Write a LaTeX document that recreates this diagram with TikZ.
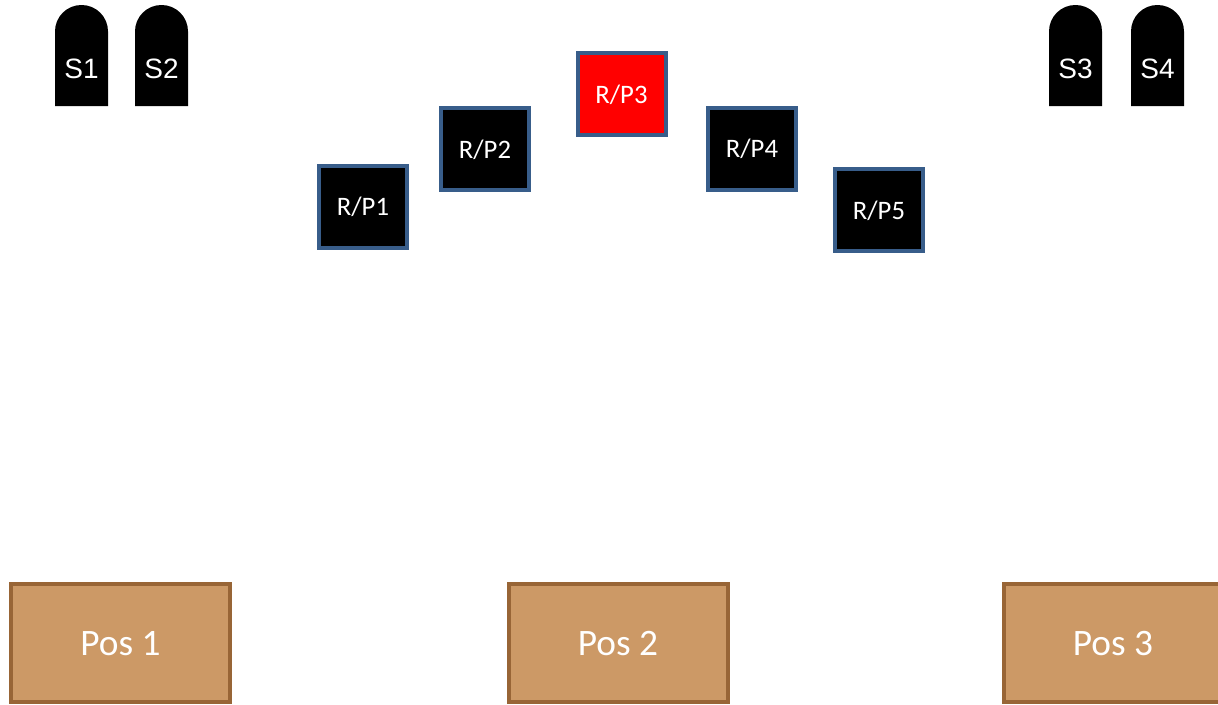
\documentclass[tikz,border=0pt]{standalone}
\usepackage{fontspec}
\setmainfont{Carlito}
\newfontfamily\arialfont{Liberation Sans}
\usepackage{tikz}

\definecolor{rpline}{HTML}{385D8A}
\definecolor{posfill}{HTML}{CC9966}
\definecolor{posline}{HTML}{986536}

\begin{document}
\begin{tikzpicture}[x=0.75pt,y=-0.75pt,
  rp/.style={draw=rpline,line width=3pt,fill=black,text=white,inner sep=0pt,
    minimum width=66pt,minimum height=61.5pt,text depth=0pt,
    font=\fontsize{20}{23}\selectfont},
  posbox/.style={draw=posline,line width=3pt,fill=posfill,text=white,inner sep=0pt,
    minimum width=164.25pt,minimum height=88.5pt,text depth=0pt,
    font=\fontsize{28}{32}\selectfont},
  slabel/.style={text=white,inner sep=0pt,font=\arialfont\fontsize{21}{24}\selectfont}]

\useasboundingbox (0,0) rectangle (1218,704);
\clip (0,0) rectangle (1218,704);

% speakers
\fill (55,106) [rounded corners=19.8pt] -- (55,5) -- (108,5) [sharp corners] -- (108,106) -- cycle;
\fill (135,106) [rounded corners=19.8pt] -- (135,5) -- (188,5) [sharp corners] -- (188,106) -- cycle;
\fill (1049,106) [rounded corners=19.8pt] -- (1049,5) -- (1102,5) [sharp corners] -- (1102,106) -- cycle;
\fill (1131,106) [rounded corners=19.8pt] -- (1131,5) -- (1184,5) [sharp corners] -- (1184,106) -- cycle;
\node[slabel] (s1) at (81.5,69) {S1};
\node[slabel] (s2) at (161.5,69) {S2};
\node[slabel] (s3) at (1075.5,69) {S3};
\node[slabel] (s4) at (1157.5,69) {S4};

% R/P boxes
\node[rp] (rp1) at (363,206.5) {R/P1};
\node[rp] (rp2) at (485,149) {R/P2};
\node[rp,fill=red] (rp3) at (621.5,94) {R/P3};
\node[rp] (rp4) at (752,148.5) {R/P4};
\node[rp] (rp5) at (879,210) {R/P5};

% positions
\node[posbox] (pos1) at (120.5,643) {Pos 1};
\node[posbox] (pos2) at (618,643) {Pos 2};
\node[posbox] (pos3) at (1113,643) {Pos 3};
\end{tikzpicture}
\end{document}
